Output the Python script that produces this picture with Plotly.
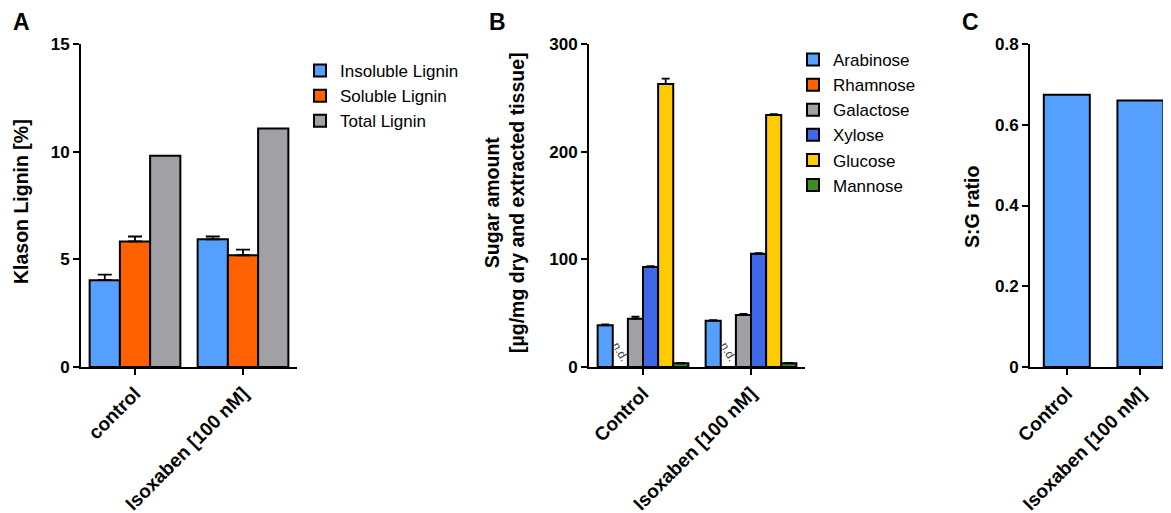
import plotly.graph_objects as go

# ---------------- data ----------------
groups_a = ["control", "Isoxaben [100 nM]"]
lignin_names = ["Insoluble Lignin", "Soluble Lignin", "Total Lignin"]
insoluble = [4.03, 5.93]
insoluble_err = [0.26, 0.13]
soluble = [5.83, 5.19]
soluble_err = [0.23, 0.26]
total = [9.81, 11.08]

groups_b = ["Control", "Isoxaben [100 nM]"]
sugar_names = ["Arabinose", "Rhamnose", "Galactose", "Xylose", "Glucose", "Mannose"]
arabinose = [38.7, 43.0]
arabinose_err = [0.8, 0.6]
rhamnose = [0, 0]
rhamnose_text = ["n.d.", "n.d."]
galactose = [44.9, 48.4]
galactose_err = [1.8, 1.0]
xylose = [92.8, 105.2]
xylose_err = [0.8, 0.6]
glucose = [262.9, 234.1]
glucose_err = [5.0, 0.8]
mannose = [3.5, 3.5]
mannose_err = [0.3, 0.3]

groups_c = ["Control", "Isoxaben [100 nM]"]
sg_ratio = [0.674, 0.660]

# ---------------- styles ----------------
FONT = "Liberation Sans, Arial, sans-serif"
C_LBLUE = "#559FFF"
C_ORANGE = "#FF6000"
C_GRAY = "#A0A0A5"
C_BLUE = "#3F68E8"
C_YELLOW = "#FFCB00"
C_GREEN = "#3C8E1E"

W, H = 1171, 513
OFF = 8  # page body margin
def px(x):
    return (x - OFF) / W
def py(y):
    return 1 - (y - OFF) / H

fig = go.Figure()

def err(arr, width):
    return dict(type="data", array=arr, arrayminus=[0] * len(arr), symmetric=False,
                color="black", thickness=1.8, width=width, visible=True)

line = dict(color="black", width=2)

# Panel A
fig.add_trace(go.Bar(x=groups_a, y=insoluble, name=lignin_names[0], marker=dict(color=C_LBLUE, line=line),
                     error_y=err(insoluble_err, 7), xaxis="x", yaxis="y", legend="legend", legendgroup="a1"))
fig.add_trace(go.Bar(x=groups_a, y=soluble, name=lignin_names[1], marker=dict(color=C_ORANGE, line=line),
                     error_y=err(soluble_err, 7), xaxis="x", yaxis="y", legend="legend", legendgroup="a2"))
fig.add_trace(go.Bar(x=groups_a, y=total, name=lignin_names[2], marker=dict(color=C_GRAY, line=line),
                     xaxis="x", yaxis="y", legend="legend", legendgroup="a3"))

# Panel B
sugars = [(arabinose, arabinose_err, C_LBLUE), (rhamnose, None, C_ORANGE), (galactose, galactose_err, C_GRAY),
          (xylose, xylose_err, C_BLUE), (glucose, glucose_err, C_YELLOW), (mannose, mannose_err, C_GREEN)]
for i, (vals, e, col) in enumerate(sugars):
    kw = {}
    if e is not None:
        kw["error_y"] = err(e, 4)
    if vals is rhamnose:
        kw.update(text=rhamnose_text, textposition="outside", textangle=60,
                  textfont=dict(family=FONT, size=12, color="#444444"), constraintext="none", cliponaxis=False)
    fig.add_trace(go.Bar(x=groups_b, y=vals, name=sugar_names[i], marker=dict(color=col, line=line),
                         xaxis="x2", yaxis="y2", legend="legend2", legendgroup="b%d" % i, **kw))

# Panel C
fig.add_trace(go.Bar(x=groups_c, y=sg_ratio, name="S:G", marker=dict(color=C_LBLUE, line=line),
                     width=0.625, xaxis="x3", yaxis="y3", showlegend=False))

xtickfont = dict(family=FONT, size=19, color="black", weight="bold")
ytickfont = dict(family=FONT, size=17, color="black", weight="bold")
ydom = [py(367), py(44)]

def xax(dom, rng):
    return dict(domain=dom, range=rng, showline=True, linecolor="black", linewidth=2, ticks="outside",
                ticklen=6, tickwidth=2, tickcolor="black", tickangle=-45, tickfont=xtickfont,
                showgrid=False, zeroline=False, automargin=False, fixedrange=True)

def yax(anchor, rng, dtick):
    return dict(domain=ydom, range=rng, dtick=dtick, anchor=anchor, showline=True, linecolor="black",
                linewidth=2, ticks="outside", ticklen=6, tickwidth=2, tickcolor="black", tickfont=ytickfont,
                showgrid=False, zeroline=False, automargin=False, fixedrange=True)

legfont = dict(family=FONT, size=17, color="black")
fig.update_layout(
    width=W, height=H, margin=dict(l=0, r=0, t=0, b=0),
    paper_bgcolor="white", plot_bgcolor="white",
    barmode="group", bargap=0.16, bargroupgap=0,
    xaxis=dict(**xax([px(81), px(297)], [-0.5, 1.5]), anchor="y"),
    yaxis=yax("x", [0, 15], 5),
    xaxis2=dict(**xax([px(589), px(805)], [-0.5, 1.5]), anchor="y2"),
    yaxis2=yax("x2", [0, 300], 100),
    xaxis3=dict(**xax([px(1030), 1.0], [-0.5, 1.524]), anchor="y3"),
    yaxis3=yax("x3", [0, 0.8], 0.2),
    legend=dict(x=px(300), y=py(53), xanchor="left", yanchor="top", font=legfont,
                tracegroupgap=0, bgcolor="rgba(0,0,0,0)", itemclick=False),
    legend2=dict(x=px(793), y=py(42), xanchor="left", yanchor="top", font=legfont,
                 tracegroupgap=0, bgcolor="rgba(0,0,0,0)", itemclick=False),
    showlegend=True,
)

title_font = dict(family=FONT, size=19.5, color="black", weight="bold")
letter_font = dict(family=FONT, size=23, color="black", weight="bold")
ann = [
    dict(text="Klason Lignin [%]", x=px(21), y=py(202), textangle=-90, font=title_font),
    dict(text="Sugar amount<br>[µg/mg dry and extracted tissue]", x=px(505), y=py(203), textangle=-90,
         font=title_font),
    dict(text="S:G ratio", x=px(972), y=py(207), textangle=-90, font=title_font),
    dict(text="A", x=px(22), y=py(22), font=letter_font),
    dict(text="B", x=px(497), y=py(22), font=letter_font),
    dict(text="C", x=px(970), y=py(22), font=letter_font),
]
for a in ann:
    a.update(xref="paper", yref="paper", showarrow=False, xanchor="center", yanchor="middle")
fig.update_layout(annotations=ann)

fig.write_html("out.html")
